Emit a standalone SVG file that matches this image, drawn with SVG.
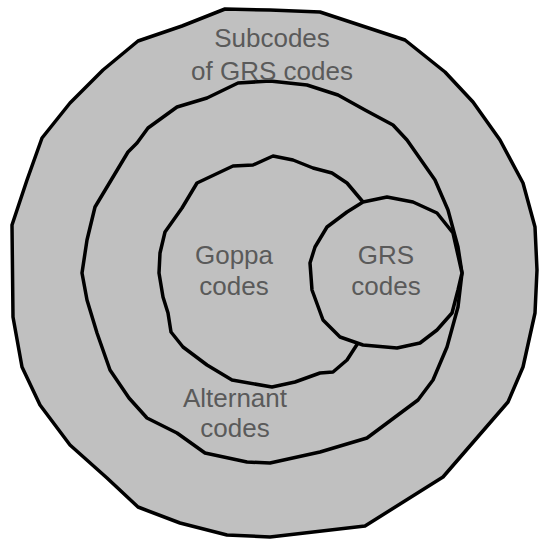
<svg xmlns="http://www.w3.org/2000/svg" width="539" height="541" viewBox="0 0 539 541">
<style>
.set{fill:#c0c0c0;stroke:#000;stroke-width:3.5;stroke-linejoin:round}
.lbl{font-family:"Liberation Sans",Arial,sans-serif;font-size:26px;fill:#5a5a5a;text-anchor:middle}
</style>
<rect width="539" height="541" fill="#fff"/>
<g id="subcodes">
<polygon class="set" points="225,9 270,10 320,12 405,40 445,72 473,102 500,140 523,183 535,227 537,270 535,313 523,367 508,402 443,477 365,526 270,537 227,535 180,523 138,507 107,478 70,445 40,405 22,367 13,317 12,225 27,180 42,138 70,103 103,70 138,41 182,26"/>
</g>
<g id="alternant">
<polygon class="set" points="238,83 270,81 307,85 338,95 365,110 393,125 407,140 435,180 448,210 458,247 462,273 458,307 447,347 433,380 418,400 367,438 320,452 270,463 247,462 205,453 177,433 147,418 129,398 110,370 97,333 87,300 82,273 87,240 95,207 128,152 137,143 148,128 177,107 207,98"/>
</g>
<g id="goppa">
<polygon class="set" points="273,156 293,160 313,168 332,173 347,183 363,202 372,240 372,300 358,343 347,360 333,372 320,373 295,382 272,387 232,380 207,365 183,347 171,332 168,313 163,297 159,273 160,253 165,232 182,208 197,183 233,166 253,165"/>
</g>
<g id="grs">
<polygon class="set" points="387,197 413,202 437,213 453,233 462,273 458,290 452,313 437,330 420,343 397,348 363,345 340,337 323,320 312,290 310,263 315,247 327,227 347,212 363,202"/>
</g>
<g id="connectors"></g>
<g id="labels">
<text class="lbl" x="272" y="47">Subcodes</text>
<text class="lbl" x="272" y="80">of GRS codes</text>
<text class="lbl" x="234" y="264">Goppa</text>
<text class="lbl" x="234" y="295">codes</text>
<text class="lbl" x="386" y="264">GRS</text>
<text class="lbl" x="386" y="295">codes</text>
<text class="lbl" x="235" y="407">Alternant</text>
<text class="lbl" x="235" y="437">codes</text>
</g>
</svg>
